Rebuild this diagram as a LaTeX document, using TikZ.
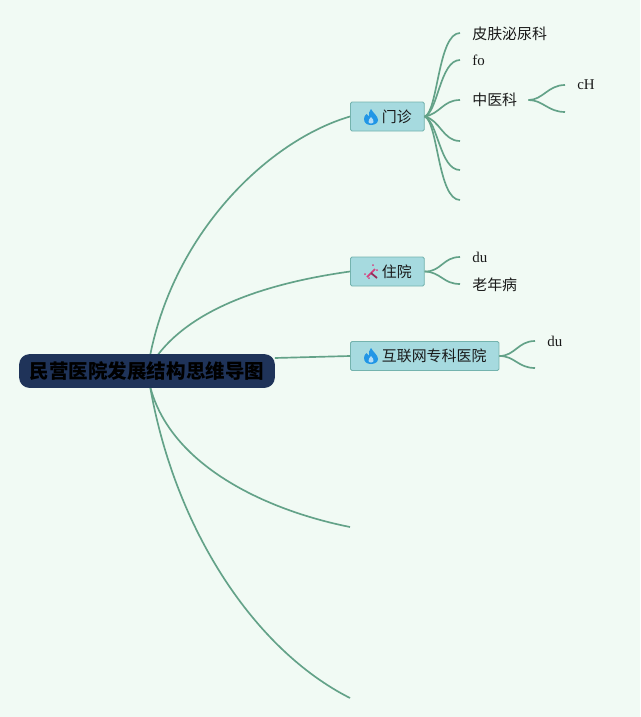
\documentclass[tikz,border=0pt]{standalone}
\usepackage{fontspec}
\setmainfont{Liberation Serif}
\newfontfamily\cjk{Noto Sans CJK SC}
\usetikzlibrary{calc,positioning}
\definecolor{bgmint}{HTML}{F1FAF4}
\definecolor{rootnavy}{HTML}{1F3359}
\definecolor{boxteal}{HTML}{A6DADF}
\definecolor{boxedge}{HTML}{74B3AE}
\definecolor{linkgreen}{HTML}{63A288}
\definecolor{flameblue}{HTML}{2196E6}
\definecolor{wandpink}{HTML}{D6417F}
\tikzset{
	rootbox/.style={draw=rootnavy, fill=rootnavy, rounded corners=0.2cm, minimum width=5.1cm, minimum height=0.66cm, inner sep=0pt, font=\cjk\fontsize{11.1}{13}\selectfont\bfseries, text=black},
	topicbox/.style={draw=boxedge, line width=0.5pt, fill=boxteal, rounded corners=0.03cm, minimum height=0.58cm, inner sep=0.25cm, inner ysep=0pt, anchor=west, font=\cjk\fontsize{8.5}{10}\selectfont, text=black!90},
	leaftext/.style={anchor=west, inner sep=0pt, font=\cjk\fontsize{8.5}{10}\selectfont, text=black!90},
	leaflatin/.style={anchor=west, inner sep=0pt, font=\rmfamily\fontsize{8.5}{10}\selectfont, text=black!90},
	link/.style={draw=linkgreen, line width=0.95pt},
	flame/.pic={
		\fill[flameblue] (0, -8) .. controls (2, -4) and (7, -1) .. (7, 3) .. controls (7, 6) and (4, 8) .. (0, 8) .. controls (-4, 8) and (-7, 6) .. (-7, 2) .. controls (-7, 0) and (-6, -2) .. (-4.5, -3) .. controls (-4, -2) and (-3, -1) .. (-2, -0.5) .. controls (-3, -3) and (-1.5, -6) .. (0, -8);
		\fill[white!65!flameblue] (0, 0) .. controls (1.5, 2) and (3, 3) .. (2.5, 5) .. controls (2, 7) and (-2, 7) .. (-2.5, 5) .. controls (-3, 3) and (-1, 2) .. (0, 0);
	}
}
\begin{document}
\begin{tikzpicture}[x=0.02cm, y=-0.02cm]
	%%%%% START %%%%%
	\useasboundingbox (0, 0) rectangle (640, 717);
	\fill[bgmint] (0, 0) rectangle (640, 717);

	% links that run behind the root
	\coordinate (rootup) at (150, 356);
	\coordinate (rootupb) at (157, 356);
	\coordinate (rootdown) at (150, 386);
	\coordinate (rootdownb) at (150, 386);
	\coordinate (endfive) at (350, 527);
	\coordinate (endsix) at (350, 698);

	\node[topicbox] (menzhen) at (350, 116.5) {\hspace*{0.38cm}门诊};
	\node[topicbox] (zhuyuan) at (350, 271.5) {\hspace*{0.38cm}住院};
	\node[topicbox] (hulian) at (350, 356) {\hspace*{0.38cm}互联网专科医院};

	\draw[link] (rootup) .. controls (175, 230) and (270, 140) .. (menzhen.west);
	\draw[link] (rootupb) .. controls (195, 305) and (275, 282) .. (zhuyuan.west);
	\draw[link] (rootdown) .. controls (170, 465) and (265, 510) .. (endfive);
	\draw[link] (rootdownb) .. controls (175, 530) and (255, 650) .. (endsix);

	\node[rootbox] (root) at (147, 371) {民营医院发展结构思维导图};
	\draw[link] (root.east |- 0, 358) -- (hulian.west);

	% leaves of the first topic
	\node[leaftext] (pifu) at (472, 34) {皮肤泌尿科};
	\node[leaflatin] (fo) at (472, 60) {fo};
	\node[leaftext] (zhongyi) at (472, 100) {中医科};
	\node[leaflatin] (ch) at (577, 85) {cH};
	\coordinate (pifuend) at (460, 33);
	\coordinate (foend) at (460, 60);
	\coordinate (zhongyiend) at (460, 100);
	\coordinate (blankone) at (460, 141);
	\coordinate (blanktwo) at (460, 170);
	\coordinate (blankthree) at (460, 200);
	\coordinate (chend) at (565, 85);
	\coordinate (chblank) at (565, 112);

	\draw[link] (menzhen.east) .. controls (438, 112) and (438, 33) .. (pifuend);
	\draw[link] (menzhen.east) .. controls (438, 112) and (440, 60) .. (foend);
	\draw[link] (menzhen.east) .. controls (440, 114) and (443, 100) .. (zhongyiend);
	\draw[link] (menzhen.east) .. controls (440, 120) and (443, 141) .. (blankone);
	\draw[link] (menzhen.east) .. controls (438, 122) and (440, 170) .. (blanktwo);
	\draw[link] (menzhen.east) .. controls (438, 122) and (438, 200) .. (blankthree);
	\draw[link] (zhongyi.east) ++(11, 0) coordinate (zhongyiout) .. controls (543, 100) and (548, 85) .. (chend);
	\draw[link] (zhongyiout) .. controls (543, 100) and (548, 112) .. (chblank);

	% leaves of the second topic
	\node[leaflatin] (dua) at (472, 257) {du};
	\node[leaftext] (laonian) at (472, 285) {老年病};
	\coordinate (duaend) at (460, 257);
	\coordinate (laonianend) at (460, 284);
	\draw[link] (zhuyuan.east) .. controls (441, 272) and (443, 257) .. (duaend);
	\draw[link] (zhuyuan.east) .. controls (441, 272) and (443, 284) .. (laonianend);

	% leaves of the third topic
	\node[leaflatin] (dub) at (547, 341) {du};
	\coordinate (dubend) at (535, 341);
	\coordinate (hublank) at (535, 368);
	\draw[link] (hulian.east) .. controls (515, 356) and (518, 341) .. (dubend);
	\draw[link] (hulian.east) .. controls (515, 356) and (518, 368) .. (hublank);

	% icons
	\pic at (371, 117) {flame};
	\pic at (371, 356) {flame};
	\draw[wandpink, line width=1pt] (367, 277) -- (375, 269);
	\draw[wandpink!70!black, line width=1pt] (371, 273) -- (377, 278);
	\foreach \sx/\sy in {365/274, 373/265, 377/270, 369/278}
		\fill[wandpink] (\sx, \sy) circle (1);
	%%%%% END %%%%%
\end{tikzpicture}
\end{document}
